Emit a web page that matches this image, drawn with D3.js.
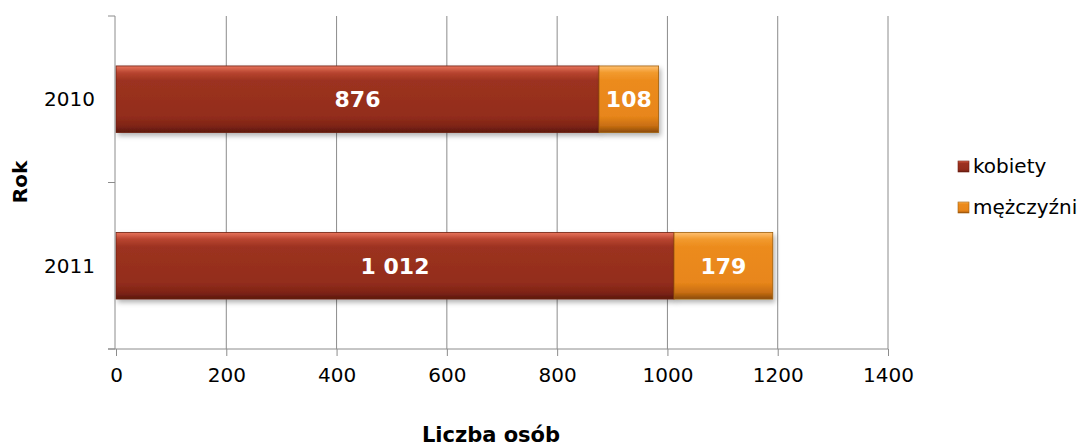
<!DOCTYPE html>
<html>
<head>
<meta charset="utf-8">
<script src="https://cdn.jsdelivr.net/npm/d3@7"></script>
<style>
  body { margin: 0; background: #fff; }
  svg { font-family: Verdana, "DejaVu Sans", sans-serif; }
</style>
</head>
<body>
<svg id="chart"></svg>
<script>
// data
var years = ["2010", "2011"];
var seriesNames = ["kobiety", "mężczyźni"];
var kobiety = [876, 1012];
var mezczyzni = [108, 179];
var xTicks = [0, 200, 400, 600, 800, 1000, 1200, 1400];

var width = 1086, height = 446;
var svg = d3.select("#chart").attr("width", width).attr("height", height);
var margin = {top: 16, left: 116, right: 198, bottom: 97};

var xScale = d3.scaleLinear().domain([0, 1400]).range([margin.left, width - margin.right]);
var yScale = d3.scaleBand().domain(years).range([margin.top, height - margin.bottom]);

var defs = svg.append("defs");
//gradients for bars, light at top dark at bottom
function makeGrad(id, stops) {
  var g = defs.append("linearGradient").attr("id", id)
      .attr("x1", 0).attr("y1", 0).attr("x2", 0).attr("y2", 1);
  stops.forEach(s => g.append("stop").attr("offset", s[0]).attr("stop-color", s[1]));
}
makeGrad("gRed", [[0, "#e8745c"], [0.1, "#b84530"], [0.22, "#9c3220"], [0.75, "#932d1c"], [0.9, "#7f2416"], [1, "#5c180e"]]);
makeGrad("gOrange", [[0, "#ffc070"], [0.1, "#f29a2e"], [0.22, "#ec8b1c"], [0.75, "#e8861a"], [0.9, "#c86e12"], [1, "#8a4a0a"]]);
var shadow = defs.append("filter").attr("id", "shadow").attr("x", "-5%").attr("y", "-20%").attr("width", "115%").attr("height", "150%");
shadow.append("feDropShadow").attr("dx", 2).attr("dy", 3).attr("stdDeviation", 2.5).attr("flood-color", "#000").attr("flood-opacity", 0.3);

var colors = {kobiety: "url(#gRed)", "mężczyźni": "url(#gOrange)"};
var edge = {kobiety: "#6e2012", "mężczyźni": "#a0600e"};

// gridlines
svg.append("g").selectAll("line").data(xTicks.slice(1)).enter().append("line")
    .attr("x1", d => xScale(d)).attr("x2", d => xScale(d))
    .attr("y1", margin.top).attr("y2", height - margin.bottom)
    .attr("stroke", "#8c8c8c").attr("stroke-width", 1);

// stacked data
var rows = years.map((y, i) => ({year: y, kobiety: kobiety[i], "mężczyźni": mezczyzni[i]}));
var stacked = d3.stack().keys(seriesNames)(rows);
var barH = yScale.bandwidth() * 0.4;

var layers = svg.append("g").selectAll("g").data(stacked).enter().append("g");
layers.selectAll("rect").data(d => d.map(v => ({key: d.key, v: v}))).enter().append("rect")
    .attr("x", d => xScale(d.v[0]))
    .attr("y", d => yScale(d.v.data.year) + (yScale.bandwidth() - barH) / 2)
    .attr("width", d => xScale(d.v[1]) - xScale(d.v[0]))
    .attr("height", barH)
    .attr("fill", d => colors[d.key])
    .attr("stroke", d => edge[d.key]).attr("stroke-width", 0.8)
    .attr("filter", "url(#shadow)");

// value labels
layers.selectAll("text").data(d => d.map(v => ({key: d.key, v: v}))).enter().append("text")
    .attr("x", d => (xScale(d.v[0]) + xScale(d.v[1])) / 2)
    .attr("y", d => yScale(d.v.data.year) + yScale.bandwidth() / 2)
    .attr("dy", "0.36em")
    .attr("text-anchor", "middle")
    .attr("fill", "#fff").attr("font-weight", "bold").attr("font-size", 22)
    .text(d => d3.format(",")(d.v[1] - d.v[0]).replace(",", " "));

// axes
var xAxis = d3.axisBottom(xScale).tickValues(xTicks).tickFormat(d3.format("d")).tickSize(7).tickSizeOuter(0).tickPadding(12);
var gx = svg.append("g").attr("transform", "translate(0," + (height - margin.bottom) + ")").call(xAxis);
gx.select(".domain").attr("d", "M" + (margin.left - 8) + ",0H" + xScale(1400)).attr("stroke", "#8c8c8c");
gx.selectAll(".tick line").attr("stroke", "#8c8c8c");
gx.selectAll("text").attr("font-size", 20).attr("fill", "#000").attr("font-family", "Verdana, 'DejaVu Sans', sans-serif");

var yAxis = svg.append("g");
yAxis.append("line").attr("x1", margin.left - 1).attr("x2", margin.left - 1)
    .attr("y1", margin.top).attr("y2", height - margin.bottom).attr("stroke", "#8c8c8c");
var yTickPos = [margin.top].concat(years.map(y => yScale(y) + yScale.bandwidth()));
yAxis.selectAll(".yt").data(yTickPos).enter().append("line")
    .attr("x1", margin.left - 8).attr("x2", margin.left - 1)
    .attr("y1", d => d).attr("y2", d => d).attr("stroke", "#8c8c8c");
yAxis.selectAll("text").data(years).enter().append("text")
    .attr("x", 95).attr("y", d => yScale(d) + yScale.bandwidth() / 2).attr("dy", "0.36em")
    .attr("text-anchor", "end").attr("font-size", 20).text(d => d);

// axis titles
svg.append("text").attr("x", 491).attr("y", 434).attr("dy", "0.36em")
    .attr("text-anchor", "middle").attr("font-size", 21).attr("font-weight", "bold").text("Liczba osób");
svg.append("text")
    .attr("text-anchor", "middle").attr("dy", "0.36em").attr("font-size", 20).attr("font-weight", "bold")
    .attr("transform", "translate(20,182) rotate(-90)").text("Rok");

// legend
var legend = svg.append("g").selectAll("g").data(seriesNames).enter().append("g")
    .attr("transform", (d, i) => "translate(958," + (166 + i * 41) + ")");
legend.append("rect").attr("x", 0).attr("y", -5).attr("width", 11).attr("height", 11)
    .attr("fill", d => colors[d]).attr("stroke", d => edge[d]).attr("stroke-width", 0.6);
legend.append("text").attr("x", 15).attr("dy", "0.36em").attr("font-size", 20).text(d => d);
</script>
</body>
</html>
